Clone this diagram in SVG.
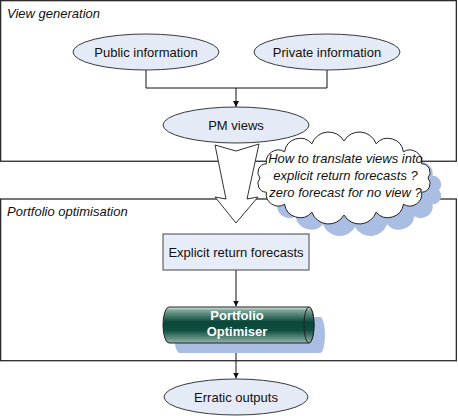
<svg xmlns="http://www.w3.org/2000/svg" width="458" height="416" viewBox="0 0 458 416">
<defs>
<style>
.frame{fill:none;stroke:#2b2b2b;stroke-width:1.3}
.lbl{font-family:"Liberation Sans",Arial,sans-serif;font-size:13px;fill:#111}
.it{font-style:italic}
.ell{fill:#e4eaf6;stroke:#3a3a3a;stroke-width:1}
.conn{fill:none;stroke:#111;stroke-width:1}
.shadow{fill:#a9bee2}
.wt{font-family:"Liberation Sans",Arial,sans-serif;font-size:13px;font-weight:bold;fill:#fff}
</style>
<marker id="ah" viewBox="0 0 10 10" refX="10" refY="5" markerWidth="6" markerHeight="7" markerUnits="userSpaceOnUse" orient="auto">
<path d="M0,0 L10,5 L0,10 Z" fill="#111"/>
</marker>
<linearGradient id="cyl" x1="0" y1="0" x2="0" y2="1">
<stop offset="0" stop-color="#dfe9e5"/>
<stop offset="0.1" stop-color="#7aa397"/>
<stop offset="0.42" stop-color="#0a4738"/>
<stop offset="0.65" stop-color="#0e4f40"/>
<stop offset="1" stop-color="#93b4aa"/>
</linearGradient>
<path id="cloud" d="M260,178 A8.6 8.6 0 0 1 266.4,163.8 A12 12 0 0 1 284.6,151.8 A15.6 15.6 0 0 1 311.9,143.8 A17.7 17.7 0 0 1 344,141 A17.7 17.7 0 0 1 376.1,143.8 A15.6 15.6 0 0 1 403.4,151.8 A12 12 0 0 1 421.6,163.8 A8.6 8.6 0 0 1 428,178 A8.6 8.6 0 0 1 421.6,192.2 A12 12 0 0 1 403.4,204.2 A15.6 15.6 0 0 1 376.1,212.2 A17.7 17.7 0 0 1 344,215 A17.7 17.7 0 0 1 311.9,212.2 A15.6 15.6 0 0 1 284.6,204.2 A12 12 0 0 1 266.4,192.2 A8.6 8.6 0 0 1 260,178 Z"/>
<path id="cyl-body" d="M169,307 H309 A5 18 0 0 1 309,343 H169 A6 18 0 0 1 169,307 Z"/>
</defs>

<g id="frame-view-generation">
<rect class="frame" x="0.65" y="0.65" width="455.7" height="160.6"/>
<text class="lbl it" x="7" y="17.5">View generation</text>
</g>
<g id="frame-portfolio-optimisation">
<rect class="frame" x="0.65" y="199" width="455.7" height="161.7"/>
<text class="lbl it" x="7" y="215.5">Portfolio optimisation</text>
</g>

<g id="connectors">
<path class="conn" d="M146,70 V88 H327 V70"/>
<path class="conn" d="M236,88 V107" marker-end="url(#ah)"/>
<path class="conn" d="M236,270 V306.5" marker-end="url(#ah)"/>
<path class="conn" d="M236,343 V378.5" marker-end="url(#ah)"/>
</g>

<g id="public-information">
<ellipse class="ell" cx="146" cy="52" rx="73" ry="18"/>
<text class="lbl" x="146" y="57" text-anchor="middle">Public information</text>
</g>
<g id="private-information">
<ellipse class="ell" cx="327" cy="52" rx="73" ry="18"/>
<text class="lbl" x="327" y="57" text-anchor="middle">Private information</text>
</g>
<g id="pm-views">
<ellipse class="ell" cx="236" cy="125" rx="73" ry="18"/>
<text class="lbl" x="236" y="130" text-anchor="middle">PM views</text>
</g>

<g id="big-arrow">
<polygon points="215,145 236,151 259,144 247,199 258,197 236,223 215,197 226,199" fill="#fff" stroke="#333" stroke-width="1"/>
</g>

<g id="explicit-return-forecasts">
<rect x="163" y="234" width="146" height="36" fill="#e7edf8" stroke="#444" stroke-width="1"/>
<text class="lbl" x="236" y="256.5" text-anchor="middle">Explicit return forecasts</text>
</g>

<g id="portfolio-optimiser">
<use href="#cyl-body" class="shadow" transform="translate(11,10)"/>
<use href="#cyl-body" fill="url(#cyl)" stroke="#222" stroke-width="1"/>
<ellipse cx="309" cy="325" rx="5" ry="18" fill="url(#cyl)" stroke="#222" stroke-width="1"/>
<text class="wt" x="237" y="320" text-anchor="middle">Portfolio</text>
<text class="wt" x="237" y="336" text-anchor="middle">Optimiser</text>
</g>

<g id="erratic-outputs">
<ellipse class="ell" cx="236" cy="397" rx="72" ry="18"/>
<text class="lbl" x="236" y="402" text-anchor="middle">Erratic outputs</text>
</g>

<g id="question-cloud">
<use href="#cloud" class="shadow" transform="translate(11,12)"/>
<use href="#cloud" fill="#fff" stroke="#222" stroke-width="1"/>
<text class="lbl it" x="345.5" y="163" text-anchor="middle">How to translate views into</text>
<text class="lbl it" x="345.5" y="180" text-anchor="middle">explicit return forecasts ?</text>
<text class="lbl it" x="345.5" y="197" text-anchor="middle">zero forecast for no view ?</text>
</g>
</svg>
